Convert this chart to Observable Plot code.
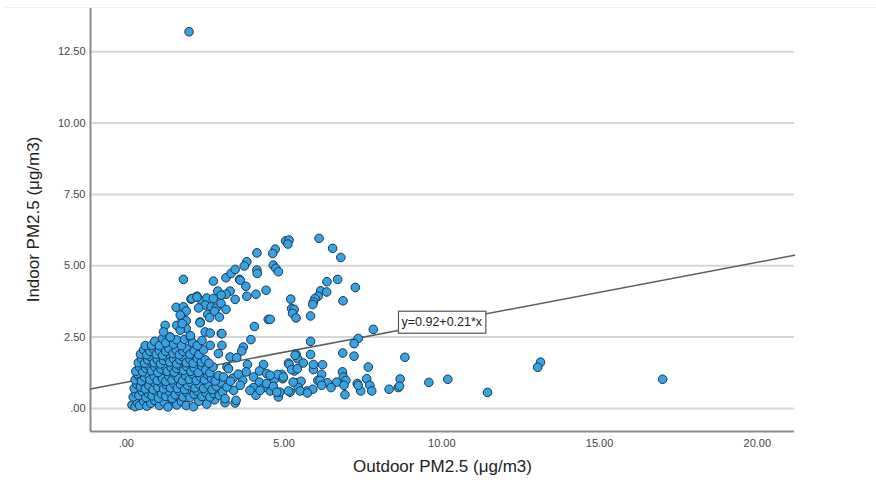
<!DOCTYPE html>
<html>
<head>
<meta charset="utf-8">
<script src="https://cdn.jsdelivr.net/npm/d3@7"></script>
<script src="https://cdn.jsdelivr.net/npm/@observablehq/plot@0.6"></script>
<style>
  html, body { margin: 0; padding: 0; background: #fff; }
  #chart { position: relative; width: 876px; height: 480px; }
  #chart .topline { position: absolute; left: 5px; right: 0; top: 7px; height: 1px; background: #efefef; }
  #chart svg { display: block; }
  #chart g[aria-label="x-axis tick label"], #chart g[aria-label="y-axis tick label"] { fill: #444; }
  #chart g[aria-label="x-axis label"], #chart g[aria-label="y-axis label"] { font-size: 17px; fill: #222; }
</style>
</head>
<body>
<div id="chart"><div class="topline"></div></div>
<script>
// Axis ticks and their printed labels
const outdoorTicks = [0, 5, 10, 15, 20];
const outdoorTickLabels = [".00", "5.00", "10.00", "15.00", "20.00"];
const indoorTicks = [0, 2.5, 5, 7.5, 10, 12.5];
const indoorTickLabels = [".00", "2.50", "5.00", "7.50", "10.00", "12.50"];
const outdoorDomain = [-1.135, 21.18];
const indoorDomain = [-0.81, 14.05];

const xTitle = "Outdoor PM2.5 (μg/m3)";
const yTitle = "Indoor PM2.5 (μg/m3)";

// Linear fit shown on the chart
const fitIntercept = 0.92;
const fitSlope = 0.21;
const fitLabel = "y=0.92+0.21*x";
const fitLabelAt = 10;

// [outdoor, indoor] pairs, µg/m3
const coreCluster = [
  [0.18,0.12],[0.28,0.06],[0.35,0.2],[0.42,0.1],[0.55,0.25],[0.65,0.08],[0.78,0.18],[0.9,0.28],[1.05,0.1],[1.2,0.22],
  [1.32,0.05],[1.48,0.3],[1.6,0.12],[1.75,0.24],[1.9,0.1],[2.13,0.06],[2.3,0.25],[2.55,0.15],[2.8,0.3],[3.13,0.2],[3.45,0.19],
  [0.22,0.4],[0.3,0.55],[0.4,0.45],[0.5,0.6],[0.62,0.38],[0.7,0.52],[0.82,0.44],[0.95,0.58],[1.02,0.36],[1.12,0.5],
  [1.25,0.42],[1.38,0.57],[1.45,0.35],[1.55,0.48],[1.68,0.6],[1.8,0.4],[1.92,0.55],[2.02,0.38],[2.15,0.5],[2.25,0.6],
  [2.4,0.42],[2.52,0.55],[2.65,0.4],[2.78,0.52],[2.95,0.45],[3.05,0.58],
  [0.25,0.7],[0.33,0.85],[0.45,0.75],[0.55,0.9],[0.6,0.68],[0.72,0.8],[0.85,0.66],[0.92,0.88],[1.0,0.74],[1.1,0.9],
  [1.18,0.68],[1.28,0.82],[1.4,0.72],[1.5,0.88],[1.62,0.7],[1.72,0.84],[1.85,0.66],[1.95,0.8],[2.05,0.9],[2.18,0.72],
  [2.3,0.85],[2.45,0.7],[2.6,0.82],[2.72,0.66],[2.85,0.78],[3.0,0.9],
  [0.28,1.0],[0.38,1.15],[0.48,0.96],[0.58,1.1],[0.68,1.2],[0.75,1.0],[0.88,1.12],[0.98,0.98],[1.08,1.18],[1.15,1.04],
  [1.25,0.95],[1.35,1.12],[1.45,1.0],[1.55,1.18],[1.65,1.05],[1.78,0.97],[1.88,1.15],[2.0,1.02],[2.1,1.2],[2.22,0.98],
  [2.35,1.1],[2.48,1.0],[2.58,1.18],[2.7,1.05],[2.82,0.96],[2.92,1.15],
  [0.34,1.22],[0.3,1.3],[0.42,1.45],[0.52,1.28],[0.62,1.4],[0.7,1.5],[0.8,1.32],[0.9,1.46],[1.0,1.26],[1.1,1.38],[1.2,1.5],
  [1.3,1.3],[1.42,1.44],[1.52,1.27],[1.6,1.4],[1.7,1.5],[1.82,1.33],[1.92,1.46],[2.05,1.3],[2.15,1.42],[2.28,1.26],
  [2.4,1.48],[2.52,1.35],[2.65,1.25],[2.75,1.45],
  [0.38,1.6],[0.48,1.75],[0.58,1.58],[0.68,1.7],[0.78,1.8],[0.88,1.6],[0.98,1.72],[1.08,1.56],[1.18,1.68],[1.28,1.8],
  [1.38,1.62],[1.5,1.74],[1.6,1.56],[1.7,1.7],[1.8,1.8],[1.9,1.6],[2.02,1.72],[2.12,1.58],[2.25,1.75],[2.38,1.62],
  [2.5,1.7],[2.62,1.58],
  [0.45,1.9],[0.55,2.05],[0.65,1.88],[0.75,2.0],[0.85,2.1],[0.95,1.9],[1.05,2.02],[1.15,1.86],[1.25,2.0],[1.35,2.1],
  [1.48,1.92],[1.58,2.05],[1.68,1.88],[1.8,2.0],[1.92,2.08],[2.02,1.9],[2.15,2.02],[2.3,1.88],[2.45,2.05],
  [0.6,2.2],[0.8,2.21],[0.9,2.35],[1.05,2.2],[1.15,2.45],[1.25,2.3],[1.39,2.5],[1.5,2.25],[1.6,2.4],[1.75,2.2],
  [1.85,2.42],[2.03,2.5],[2.1,2.3],[2.25,2.2],[2.4,2.38]
];

const upperArm = [
  [2.24,3.93],[2.05,3.83],[2.40,3.76],[2.55,3.87],[2.76,3.85],[2.50,3.62],[2.69,3.56],[2.85,3.52],[3.00,3.68],[3.16,3.47],
  [2.29,3.52],[1.58,3.54],[1.81,3.56],[1.90,3.41],[1.76,3.18],[1.90,3.07],[2.58,3.29],[2.64,3.18],[2.34,3.03],[1.60,2.91],
  [1.23,2.91],[1.90,2.80],[1.71,2.74],[1.18,2.68],[2.50,2.68],[2.66,2.64],[3.01,2.62],[1.71,3.27],[1.77,2.97],[1.39,2.50],
  [2.03,2.55],[2.34,3.00],[3.03,2.62],[2.66,2.21],[2.92,1.92],[3.29,1.80],[2.08,3.85],[2.24,3.9],[2.8,3.4],[2.95,3.2],
  [1.81,4.52],[2.76,4.46],[3.16,4.58],[3.32,4.73],[3.45,4.87],[3.59,4.52],[3.79,4.28],[3.82,3.93],[4.11,4.00],[4.43,4.14],
  [2.90,4.11],[3.29,4.11],[3.16,4.00],[3.01,3.97],[3.45,3.82],[3.61,4.49],[3.82,5.14],[3.74,4.99],[4.14,4.85],[4.15,4.73],
  [4.14,5.45],[4.72,5.58],[4.64,5.43],[4.66,5.02],[4.74,4.91],[4.82,4.79],[5.05,5.87],[5.16,5.90],[5.12,5.76]
];

const middleSpread = [
  [4.50,3.12],[4.06,2.87],[3.03,2.21],[3.95,2.41],[3.71,2.15],[3.66,2.01],[3.50,1.78],[3.19,1.45],[3.24,1.39],[3.84,1.54],
  [4.35,1.54],[3.80,1.28],[4.22,1.31],[3.38,1.06],[3.69,0.98],[4.03,1.10],[4.22,0.92],[4.61,1.12],[4.69,1.01],[4.93,1.19],
  [4.96,1.04],[4.56,0.61],[4.35,0.73],[4.03,0.73],[4.11,0.46],[3.92,0.63],[3.61,0.81],[3.40,0.63],[3.48,0.28],[3.13,0.34],
  [4.82,0.40],[3.08,1.10],[3.19,0.75],[4.45,0.87],[4.66,0.77],[4.24,0.63],[4.87,0.57],[3.55,1.2],[3.3,0.95],[4.45,1.22]
];

const rightSpread = [
  [6.11,5.96],[6.54,5.61],[6.80,5.29],[6.36,4.44],[6.70,4.52],[7.26,4.24],[6.16,4.12],[6.35,4.08],[6.08,3.93],[5.98,3.85],
  [5.93,3.73],[5.91,3.64],[6.87,3.77],[5.21,3.83],[5.24,3.50],[5.32,3.47],[5.27,3.33],[5.38,3.17],[5.84,3.24],[4.56,3.12],
  [7.83,2.77],[7.35,2.45],[7.22,2.27],[5.84,2.35],
  [5.38,1.90],[5.43,1.74],[5.84,1.89],[6.86,1.94],[7.22,1.83],[5.14,1.59],[5.61,1.59],[6.22,1.53],[5.33,1.31],[5.93,1.36],
  [6.85,1.28],[7.67,1.45],[4.79,1.19],[4.98,1.10],[6.19,1.19],[6.88,1.10],[7.62,1.04],[5.38,0.90],[5.54,0.95],[6.07,0.98],
  [6.37,0.90],[6.67,0.92],[6.96,0.98],[7.32,0.87],[7.72,0.81],[8.62,0.73],[8.33,0.67],[5.45,0.73],[5.72,0.61],[5.91,0.67],
  [6.49,0.73],[6.90,0.81],[7.43,0.61],[7.78,0.61],[6.93,0.48],[4.77,0.57],[5.19,0.57],[4.56,1.16],[7.35,0.81],[5.16,1.54],
  [5.35,1.86],[5.93,1.54],[5.24,1.36],[5.42,1.39],[5.29,0.92],[5.14,0.61],[5.51,0.61],[5.74,0.54],[6.14,0.98],[6.19,0.81]
];

const farPoints = [
  [1.99,13.2],[17.0,1.02],[13.13,1.62],[13.04,1.44],[11.45,0.56],[10.19,1.02],[9.59,0.91],[8.83,1.79],[8.68,1.03],[8.66,0.78]
];

const rows = [...coreCluster, ...upperArm, ...middleSpread, ...rightSpread, ...farPoints]
  .map(([outdoor, indoor]) => ({outdoor, indoor}));

const fitLine = outdoorDomain.map(x => ({x, y: fitIntercept + fitSlope * x}));

const chart = Plot.plot({
  width: 876,
  height: 480,
  marginLeft: 90,
  marginRight: 82,
  marginTop: 7,
  marginBottom: 49,
  style: {fontFamily: "'Liberation Sans', Arial, sans-serif", background: "#fff"},
  x: {domain: outdoorDomain},
  y: {domain: indoorDomain},
  marks: [
    Plot.gridY(indoorTicks, {stroke: "#d6d6d6", strokeOpacity: 1, strokeWidth: 2}),
    Plot.axisX(outdoorTicks, {
      tickSize: 0, tickPadding: 8, fontSize: 11,
      tickFormat: d => outdoorTickLabels[outdoorTicks.indexOf(d)],
      label: xTitle, labelAnchor: "center", labelArrow: "none", labelOffset: 40
    }),
    Plot.axisY(indoorTicks, {
      tickSize: 0, tickPadding: 5, fontSize: 11,
      tickFormat: d => indoorTickLabels[indoorTicks.indexOf(d)],
      label: yTitle, labelAnchor: "center", labelArrow: "none", labelOffset: 64
    }),
    Plot.ruleX([outdoorDomain[0]], {stroke: "#8c8c8c", strokeWidth: 2}),
    Plot.ruleY([indoorDomain[0]], {stroke: "#8c8c8c", strokeWidth: 2}),
    Plot.line(fitLine, {x: "x", y: "y", stroke: "#5e5e5e", strokeWidth: 1.5}),
    Plot.dot(rows, {x: "outdoor", y: "indoor", r: 4.3, fill: "#36a3e4", fillOpacity: 1, stroke: "#1d3550", strokeWidth: 1}),
    Plot.text([fitLabel], {
      x: fitLabelAt, y: fitIntercept + fitSlope * fitLabelAt, text: d => d,
      fontSize: 12.5, fill: "#222"
    })
  ]
});

document.getElementById("chart").appendChild(chart);

// White boxed background behind the fit equation
const labelText = chart.querySelector('g[aria-label="text"] text');
if (labelText) {
  const b = labelText.getBBox();
  const rect = document.createElementNS("http://www.w3.org/2000/svg", "rect");
  const padX = 3, padY = 4;
  rect.setAttribute("x", b.x - padX);
  rect.setAttribute("y", b.y - padY);
  rect.setAttribute("width", b.width + 2 * padX);
  rect.setAttribute("height", b.height + 2 * padY);
  rect.setAttribute("fill", "#fff");
  rect.setAttribute("stroke", "#555");
  rect.setAttribute("stroke-width", "1.2");
  const tf = labelText.getAttribute("transform");
  if (tf) rect.setAttribute("transform", tf);
  labelText.parentNode.insertBefore(rect, labelText);
}
</script>
</body>
</html>
